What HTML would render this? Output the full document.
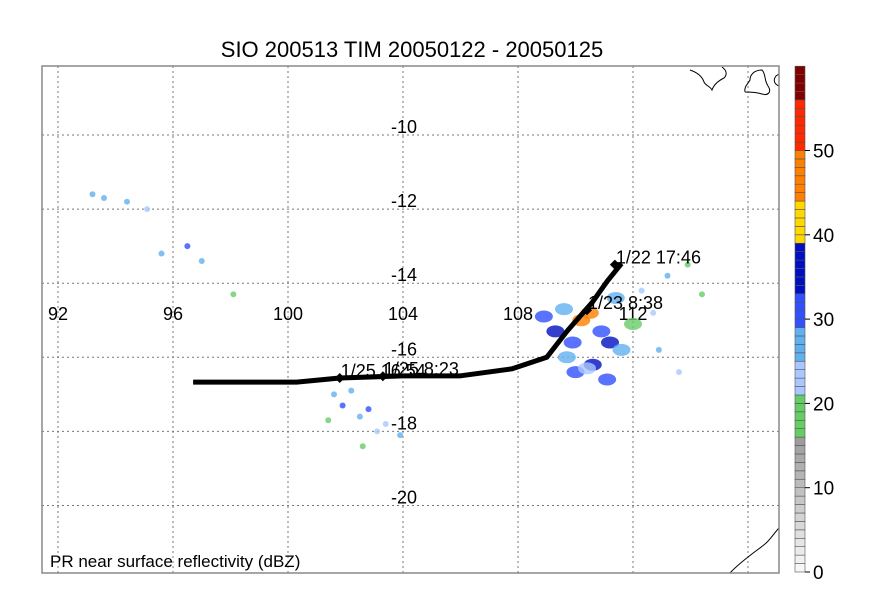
<!DOCTYPE html>
<html><head><meta charset="utf-8"><style>
body{margin:0;background:#fff;}
svg{display:block;font-family:"Liberation Sans",sans-serif;}
</style></head><body>
<svg id="chart" width="885" height="590">
<text x="412" y="57" font-size="22" text-anchor="middle">SIO 200513 TIM 20050122 - 20050125</text>
<g id="grid"></g>
<g id="rain"></g>
<g id="coast" fill="none" stroke="#000" stroke-width="1">
<path d="M690,70 C696,72 702,76 704,82 C706,86 710,86 712,90 C714,84 720,80 724,78 C728,74 726,70 722,67"/>
<path d="M745,92 C744,86 748,84 750,80 C750,75 754,70 762,70 C766,74 764,80 768,86 C772,92 768,96 762,94 C756,92 750,92 745,92"/>
<path d="M779,86 C774,84 773,80 776,76 L779,74"/>
<path d="M730,573 C740,562 755,552 765,544 C770,540 775,532 779,528"/>
</g>
<rect x="42" y="66" width="737" height="507" fill="none" stroke="#888" stroke-width="1.5"/>
<g id="track"></g>
<text x="50" y="567" font-size="17">PR near surface reflectivity (dBZ)</text>
<g id="cbar"></g>
</svg>
<script>
const lonTicks=[92,96,100,104,108,112];
const latTicks=[-10,-12,-14,-16,-18,-20];
const trackLon=[96.7,100.3,101.8,104,106,107.8,109,109.7,110.6,111.1,111.6];
const trackLat=[-16.67,-16.67,-16.56,-16.5,-16.5,-16.31,-16.0,-15.3,-14.5,-13.95,-13.47];
const markLon=[101.8,103.3,110.4,111.37];
const markLat=[-16.56,-16.51,-14.73,-13.5];
const markLabels=["1/25 16:54","1/25 8:23","1/23 8:38","1/22 17:46"];
const cbarTicks=[0,10,20,30,40,50];
const rainLon=[93.2,93.6,94.4,95.1,95.6,96.5,97,98.1,101.6,101.9,102.2,102.5,102.8,103.1,103.4,102.6,101.4,103.9,108.9,109.3,109.6,109.9,110.2,110.5,110.9,111.2,111.6,112.0,111.4,110.6,110.0,109.7,112.3,112.7,113.2,113.9,114.4,112.9,113.6,111.1,110.4];
const rainLat=[-11.6,-11.7,-11.8,-12.0,-13.2,-13.0,-13.4,-14.3,-17.0,-17.3,-16.9,-17.6,-17.4,-18.0,-17.8,-18.4,-17.7,-18.1,-14.9,-15.3,-14.7,-15.6,-15.0,-14.8,-15.3,-15.6,-15.8,-15.1,-14.4,-16.2,-16.4,-16.0,-14.2,-14.8,-13.8,-13.5,-14.3,-15.8,-16.4,-16.6,-16.3];
const rainDbz=[27,25,28,22,26,30,26,20,28,32,25,26,30,21,24,19,20,28,31,34,27,30,46,44,29,33,25,20,26,34,30,27,24,22,25,20,19,28,24,31,22];
const NS="http://www.w3.org/2000/svg";
const X=l=>58+(l-92)*28.75, Y=l=>135+(-10-l)*37.05;
const CB=v=>572-v*8.43;
function el(t,a,p){const e=document.createElementNS(NS,t);for(const k in a)e.setAttribute(k,a[k]);document.getElementById(p).appendChild(e);return e;}
function col(v){if(v<16)return `rgb(${250-v*6},${250-v*6},${250-v*6})`;if(v<21)return '#6c6';if(v<25)return '#aac8ff';if(v<29)return '#60b0f0';if(v<33)return '#3050ff';if(v<39)return '#0010c0';if(v<44)return '#ffd800';if(v<50)return '#ff8000';if(v<56)return '#ff2800';return '#800000';}
lonTicks.forEach(l=>{const x=X(l);
 let g=el('line',{x1:x,x2:x,y1:66,y2:573,stroke:'#777','stroke-dasharray':'2,3'},'grid');
 
 let t=el('text',{x:x,y:320,'font-size':18,'text-anchor':'middle'},'grid');t.textContent=l;
 });
el('line',{x1:X(116),x2:X(116),y1:66,y2:573,stroke:'#777','stroke-dasharray':'2,3'},'grid');
latTicks.forEach(l=>{const y=Y(l);
 let g=el('line',{x1:42,x2:779,y1:y,y2:y,stroke:'#777','stroke-dasharray':'2,3'},'grid');
 
 let t=el('text',{x:404,y:y-2,'font-size':18,'text-anchor':'middle'},'grid');t.textContent=l;
 });
rainLon.forEach((l,i)=>{
 const big=l>108.5&&l<112.5&&rainLat[i]<-14.2&&rainLat[i]>-16.7;
 let c=el('ellipse',{cx:X(l),cy:Y(rainLat[i]),rx:big?9:3,ry:big?6:3,fill:col(rainDbz[i]),opacity:0.8},'rain');
 });
let pts=trackLon.map((l,i)=>X(l)+','+Y(trackLat[i])).join(' ');
let pl=el('polyline',{points:pts,fill:'none',stroke:'#000','stroke-width':5,'stroke-linejoin':'round'},'track');

markLon.forEach((l,i)=>{const x=X(l),y=Y(markLat[i]);
 let m=el('path',{d:`M${x-5},${y} L${x},${y-5} L${x+5},${y} L${x},${y+5}Z`,fill:'#000'},'track');
 
 let t=el('text',{x:x+1,y:y-1,'font-size':18},'track');t.textContent=markLabels[i];
 });
for(let v=0;v<60;v++){
 let r=el('rect',{x:795,y:CB(v+1),width:10,height:8.43,fill:col(v+0.5),stroke:'#555','stroke-width':0.6},'cbar');
 }
cbarTicks.forEach(v=>{const y=CB(v);
 el('line',{x1:805,x2:810,y1:y,y2:y,stroke:'#000'},'cbar');
 let t=el('text',{x:813,y:y+7,'font-size':19},'cbar');t.textContent=v;
 });
</script>
</body></html>
